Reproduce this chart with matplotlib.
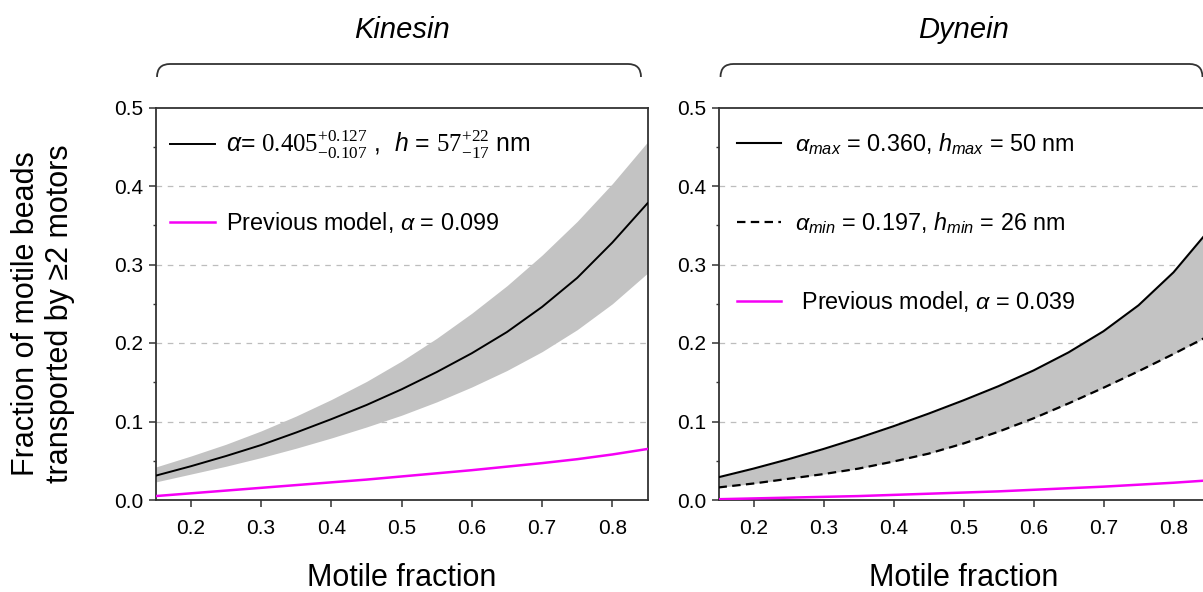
import matplotlib
matplotlib.use('Agg')
import matplotlib.pyplot as plt
from matplotlib.path import Path
from matplotlib.patches import PathPatch
from matplotlib.ticker import MultipleLocator, FixedLocator

plt.rcParams['font.family'] = ['Liberation Sans', 'DejaVu Sans']
plt.rcParams['mathtext.fontset'] = 'custom'
plt.rcParams['mathtext.rm'] = 'Liberation Serif'
plt.rcParams['mathtext.it'] = 'Liberation Sans:italic'
plt.rcParams['mathtext.bf'] = 'Liberation Sans:bold'
plt.rcParams['mathtext.sf'] = 'Liberation Sans'

# ---------------- data ----------------
motile_fraction = [0.15, 0.20, 0.25, 0.30, 0.35, 0.40, 0.45, 0.50,
                   0.55, 0.60, 0.65, 0.70, 0.75, 0.80, 0.85]

kinesin_fit = [0.031, 0.043, 0.056, 0.070, 0.086, 0.103, 0.121, 0.141,
               0.163, 0.187, 0.214, 0.246, 0.283, 0.328, 0.378]
kinesin_upper = [0.042, 0.056, 0.071, 0.088, 0.107, 0.128, 0.151, 0.177,
                 0.206, 0.238, 0.273, 0.312, 0.355, 0.403, 0.456]
kinesin_lower = [0.023, 0.033, 0.043, 0.054, 0.066, 0.079, 0.093, 0.108,
                 0.125, 0.144, 0.165, 0.189, 0.217, 0.250, 0.289]
kinesin_prev = [0.005, 0.0085, 0.012, 0.0155, 0.019, 0.0225, 0.026, 0.030,
                0.034, 0.038, 0.0425, 0.047, 0.052, 0.058, 0.065]

dynein_max = [0.029, 0.040, 0.052, 0.065, 0.079, 0.094, 0.110, 0.127,
              0.145, 0.165, 0.188, 0.215, 0.248, 0.290, 0.343]
dynein_min = [0.016, 0.021, 0.027, 0.033, 0.040, 0.049, 0.059, 0.072,
              0.087, 0.104, 0.123, 0.143, 0.164, 0.186, 0.209]
dynein_prev = [0.001, 0.002, 0.003, 0.004, 0.005, 0.0065, 0.008, 0.0095,
               0.011, 0.013, 0.015, 0.017, 0.0195, 0.022, 0.025]

x_ticks = [0.2, 0.3, 0.4, 0.5, 0.6, 0.7, 0.8]
y_ticks = [0.0, 0.1, 0.2, 0.3, 0.4, 0.5]
grid_levels = [0.1, 0.2, 0.3, 0.4]

panel_titles = ['Kinesin', 'Dynein']
x_label = 'Motile fraction'
y_label = 'Fraction of motile beads\ntransported by \u22652 motors'

kin_labels = [r'$\alpha$= $0.405^{+0.127}_{-0.107}$ ,  $h$ = $57^{+22}_{-17}$ nm',
              r'Previous model, $\alpha$ = 0.099']
dyn_labels = [r'$\alpha_{max}$ = 0.360, $h_{max}$ = 50 nm',
              r'$\alpha_{min}$ = 0.197, $h_{min}$ = 26 nm',
              r' Previous model, $\alpha$ = 0.039']

# ---------------- layout ----------------
W, H = 1203, 592
fig = plt.figure(figsize=(W / 100, H / 100), dpi=100)


def px_rect(l, t, r, b):
    return [l / W, 1 - b / H, (r - l) / W, (b - t) / H]


axL = fig.add_axes(px_rect(155.7, 107.5, 647.5, 500))
axR = fig.add_axes(px_rect(718.5, 107.5, 1208.5, 500))

BAND = '#c3c3c3'
MAG = '#f500f5'
SPINE = '#333333'

# Kinesin
axL.fill_between(motile_fraction, kinesin_lower, kinesin_upper,
                 color=BAND, lw=0, zorder=1)
lk1, = axL.plot(motile_fraction, kinesin_fit, color='black', lw=1.4, zorder=3)
lk2, = axL.plot(motile_fraction, kinesin_prev, color=MAG, lw=1.8, zorder=3)

# Dynein
axR.fill_between(motile_fraction, dynein_min, dynein_max,
                 color=BAND, lw=0, zorder=1)
ld1, = axR.plot(motile_fraction, dynein_max, color='black', lw=1.5, zorder=3)
ld2, = axR.plot(motile_fraction, dynein_min, color='black', lw=1.6,
                dashes=(3.8, 2.4), zorder=3)
ld3, = axR.plot(motile_fraction, dynein_prev, color=MAG, lw=1.8, zorder=3)

for ax in (axL, axR):
    ax.set_xlim(0.15, 0.85)
    ax.set_ylim(0.0, 0.5)
    ax.xaxis.set_major_locator(FixedLocator(x_ticks))
    ax.yaxis.set_major_locator(FixedLocator(y_ticks))
    ax.yaxis.set_minor_locator(MultipleLocator(0.05))
    ax.set_xticklabels([f'{v:.1f}' for v in x_ticks])
    ax.set_yticklabels([f'{v:.1f}' for v in y_ticks])
    ax.tick_params(axis='both', which='major', direction='out', length=5,
                   width=1.1, color=SPINE, labelsize=15)
    ax.tick_params(axis='x', which='major', pad=9)
    ax.tick_params(axis='y', which='major', pad=4)
    ax.tick_params(axis='y', which='minor', direction='out', length=2.5,
                   width=1.0, color=SPINE)
    for s in ax.spines.values():
        s.set_color(SPINE)
        s.set_linewidth(1.3)
    for g in grid_levels:
        ax.axhline(g, color='#bdbdbd', lw=0.9, ls=(0, (4.5, 4.5)), zorder=0)
    ax.set_xlabel(x_label, fontsize=22)
    ax.xaxis.set_label_coords(0.5, -(578 - 500) / 392.5)
    ax.xaxis.label.set_va('center')

legL = axL.legend([lk1, lk2], kin_labels, loc='upper left',
                  bbox_to_anchor=(0.029, 0.946), frameon=False, fontsize=16.8,
                  handlelength=1.95, handletextpad=0.45, borderpad=0,
                  borderaxespad=0, labelspacing=2.1)
legL.get_texts()[0].set_fontsize(17.8)
legR = axR.legend([ld1, ld2, ld3], dyn_labels, loc='upper left',
                  bbox_to_anchor=(0.037, 0.939), frameon=False, fontsize=16.8,
                  handlelength=1.9, handletextpad=0.6, borderpad=0,
                  borderaxespad=0, labelspacing=2.26)

# titles
fig.text(401.6 / W, 1 - 30 / H, panel_titles[0], fontsize=21, style='italic',
         ha='center', va='center')
fig.text(963.5 / W, 1 - 30 / H, panel_titles[1], fontsize=21, style='italic',
         ha='center', va='center')

# braces
def brace(x0, x1, ytop=64, ybot=77, r=13):
    pts = [(x0, ybot), (x0, ytop), (x0 + r, ytop), (x1 - r, ytop),
           (x1, ytop), (x1, ybot)]
    codes = [Path.MOVETO, Path.CURVE3, Path.CURVE3, Path.LINETO,
             Path.CURVE3, Path.CURVE3]
    verts = [(x / W, 1 - y / H) for x, y in pts]
    fig.add_artist(PathPatch(Path(verts, codes), transform=fig.transFigure,
                             fill=False, lw=1.3, edgecolor=SPINE))


brace(157, 641)
brace(720.5, 1202.5)

# y label
fig.text(43 / W, 1 - 314 / H, y_label, rotation=90, fontsize=22,
         ha='center', va='center', multialignment='center', linespacing=1.15)

fig.savefig('out.png', dpi=100)
